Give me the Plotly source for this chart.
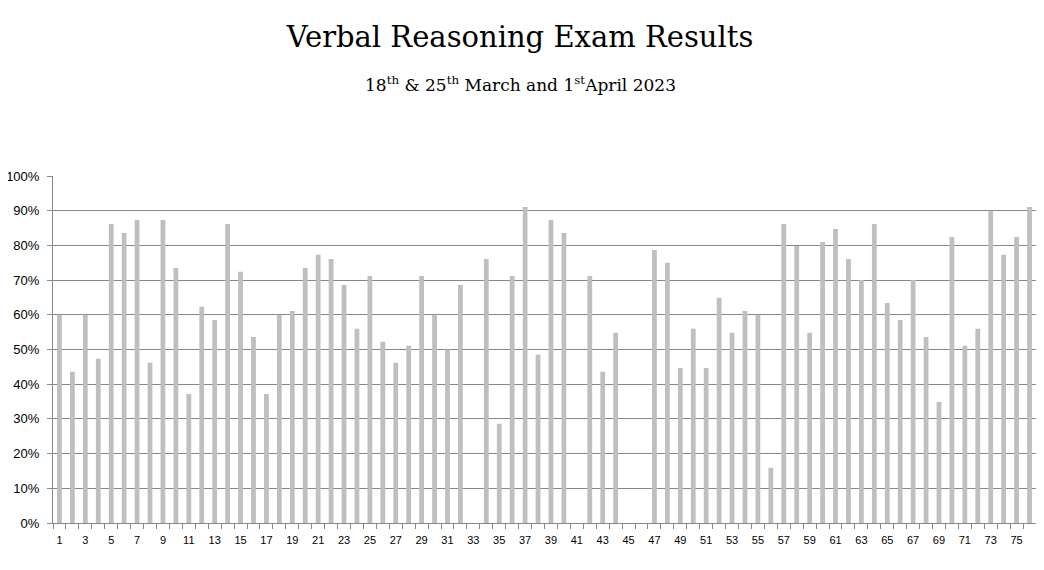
import plotly.graph_objects as go

candidates = list(range(1, 77))
scores = [
    0.600, 0.436, 0.600, 0.473, 0.862, 0.836, 0.873, 0.462, 0.873, 0.735,
    0.372, 0.623, 0.585, 0.862, 0.724, 0.536, 0.372, 0.600, 0.611, 0.735,
    0.773, 0.761, 0.686, 0.560, 0.712, 0.522, 0.462, 0.511, 0.712, 0.600,
    0.500, 0.686, None, 0.761, 0.286, 0.712, 0.911, 0.485, 0.873, 0.836,
    None, 0.712, 0.436, 0.548, None, None, 0.787, 0.750, 0.447, 0.560,
    0.447, 0.649, 0.548, 0.611, 0.600, 0.159, 0.862, 0.798, 0.548, 0.810,
    0.847, 0.761, 0.700, 0.862, 0.634, 0.585, 0.700, 0.536, 0.349, 0.824,
    0.511, 0.560, 0.900, 0.773, 0.824, 0.911,
]
x_tick_labels = [str(i) for i in range(1, 77, 2)]
title_text = "Verbal Reasoning Exam Results"
subtitle_text = ("18<sup>th</sup> &amp; 25<sup>th</sup> March and "
                 "1<sup>st</sup>April 2023")

# The page body adds an 8px offset; size the figure to fit inside the window.
W, H = 1036, 562
x_range = [0.5, 76.5]
boundaries = [i + 0.5 for i in range(0, 77)]

fig = go.Figure()
fig.add_trace(go.Bar(
    x=candidates, y=scores,
    marker=dict(color="#bfbfbf", line=dict(width=0)),
    hoverinfo="x+y",
))
# empty helper trace so the boundary-tick axis is drawn
fig.add_trace(go.Scatter(
    x=[candidates[0]], y=[None], xaxis="x2", yaxis="y",
    mode="markers", hoverinfo="skip", showlegend=False,
))

fig.update_layout(
    width=W, height=H,
    paper_bgcolor="white", plot_bgcolor="white",
    margin=dict(l=45, r=8, t=168, b=47),
    bargap=0.63,
    showlegend=False,
    title=dict(
        text=title_text,
        x=(520 - 8) / W, xanchor="center",
        y=1 - 29 / H, yanchor="middle", yref="container",
        font=dict(family="DejaVu Serif", size=29, color="black"),
    ),
    annotations=[dict(
        text=subtitle_text,
        xref="paper", yref="paper",
        x=(520 - 53) / 983, y=(523 - 84) / 347,
        xanchor="center", yanchor="middle",
        showarrow=False,
        font=dict(family="DejaVu Serif", size=17, color="black"),
    )],
    xaxis=dict(
        range=x_range,
        automargin=False,
        tickmode="array",
        tickvals=list(range(1, 77, 2)),
        ticktext=x_tick_labels,
        ticks="outside", ticklen=7, tickcolor="rgba(0,0,0,0)",
        minor=dict(ticks="outside", ticklen=5, tickmode="array",
                   tickvals=boundaries, tickcolor="#878787", showgrid=False),
        showline=True, linecolor="#878787", linewidth=1,
        showgrid=False, zeroline=False,
        tickfont=dict(family="Liberation Sans", size=11, color="black"),
    ),
    xaxis2=dict(
        overlaying="x", anchor="y", side="bottom",
        range=x_range,
        automargin=False,
        tickmode="array",
        tickvals=boundaries,
        ticktext=["" for _ in boundaries],
        ticks="outside", ticklen=5, tickcolor="#878787", tickwidth=1,
        showline=False, showgrid=False, zeroline=False,
        showticklabels=True,
    ),
    yaxis=dict(
        range=[0, 1],
        automargin=False,
        tickmode="linear", tick0=0, dtick=0.1,
        tickformat=".0%",
        ticks="outside", ticklen=5, tickcolor="#878787",
        ticklabelstandoff=5,
        showline=True, linecolor="#878787", linewidth=1,
        showgrid=True, gridcolor="#878787", gridwidth=1,
        zeroline=False,
        tickfont=dict(family="Liberation Sans", size=13, color="black"),
    ),
)

fig.write_html("out.html")
